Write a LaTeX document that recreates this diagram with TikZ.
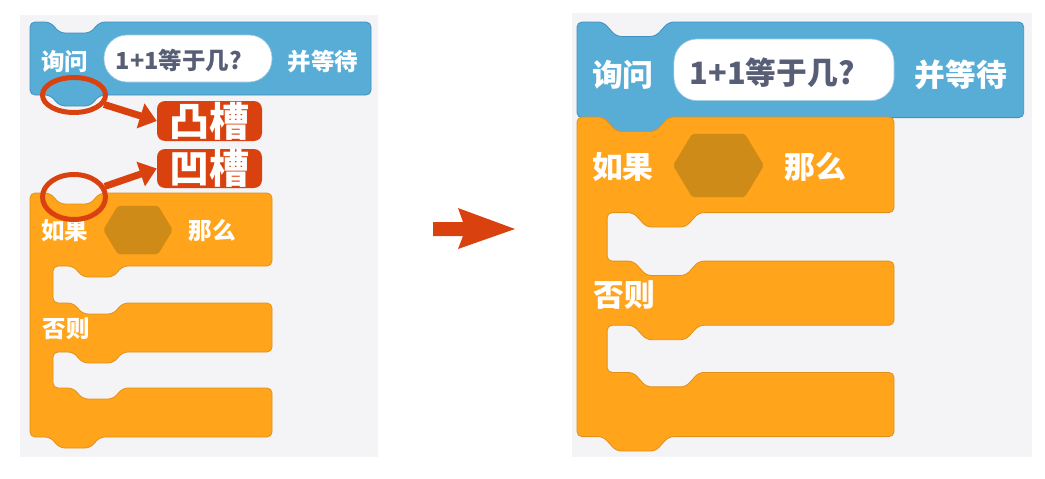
\documentclass[tikz,border=0pt]{standalone}
\usepackage{fontspec}
\newfontfamily\cjk{Noto Sans CJK SC}
\usetikzlibrary{arrows.meta,shapes.geometric}
\definecolor{panelgray}{HTML}{F4F4F6}
\definecolor{sblue}{HTML}{58ADD7}
\definecolor{sblueb}{HTML}{3F8FC0}
\definecolor{sorange}{HTML}{FFA41B}
\definecolor{sorangeb}{HTML}{E0911A}
\definecolor{hexcol}{HTML}{CF8B17}
\definecolor{darktext}{HTML}{575E75}
\definecolor{ared}{HTML}{D9420F}
\tikzset{
  blueblk/.style={fill=sblue, draw=sblueb, line width=0.8pt, rounded corners=5pt},
  orangeblk/.style={fill=sorange, draw=sorangeb, line width=0.8pt, rounded corners=5pt},
  hexfill/.style={fill=hexcol, draw=hexcol, rounded corners=2pt},
  wtxt/.style={text=white, font=\cjk\bfseries\fontsize{23.5}{26}\selectfont, inner sep=0pt},
  pill/.style={fill=white, draw=sblueb!50, line width=0.6pt, rounded corners=23pt,
    minimum width=168pt, minimum height=47pt, inner sep=0pt},
  pilltxt/.style={inner sep=0pt, text=darktext, font=\cjk\bfseries\fontsize{23.5}{26}\selectfont},
  circ/.style={ellipse, draw=ared, line width=5pt, inner sep=0pt},
  lbl/.style={fill=ared, rounded corners=8pt, text=white, inner sep=0pt,
    minimum width=105pt, font=\cjk\bfseries\fontsize{40}{42}\selectfont},
  redarrow/.style={draw=ared, line width=7pt, -{Triangle[length=17pt,width=25pt]}},
  askblock/.pic={
    \draw[blueblk] (0,0) -- (20,0) -- (30,11) -- (60,11) -- (70,0) -- (341,0)
      -- (341,73) -- (70,73) -- (60,84) -- (30,84) -- (20,73) -- (0,73) -- cycle;
    \node[wtxt] (-l) at (35,40) {询问};
    \node[pill] (-in) at (158,36.5) {};
    \node[pilltxt] (-intxt) at (149,39) {1+1等于几?};
    \node[wtxt] (-r) at (293,40) {并等待};
  },
  ifblock/.pic={
    \draw[orangeblk] (0,0) -- (20,0) -- (30,11) -- (60,11) -- (70,0) -- (242,0)
      -- (242,73) -- (93,73) -- (83,84) -- (53,84) -- (43,73) -- (23,73)
      -- (23,110) -- (43,110) -- (53,121) -- (83,121) -- (93,110) -- (242,110)
      -- (242,159) -- (93,159) -- (83,170) -- (53,170) -- (43,159) -- (23,159)
      -- (23,195) -- (43,195) -- (53,206) -- (83,206) -- (93,195) -- (242,195)
      -- (242,244) -- (70,244) -- (60,255) -- (30,255) -- (20,244) -- (0,244) -- cycle;
    \node[wtxt] (-if) at (35,38) {如果};
    \draw[hexfill] (73.5,37) -- (88,13) -- (128,13) -- (142.5,37) -- (128,61) -- (88,61) -- cycle;
    \node[wtxt] (-then) at (182,38) {那么};
    \node[wtxt] (-else) at (36,136) {否则};
  }
}
\begin{document}
\begin{tikzpicture}[x=1pt,y=-1pt]
\useasboundingbox (0,0) rectangle (1045,479);
% panels
\fill[panelgray] (20,15) rectangle (378,457);
\fill[panelgray] (572,13) rectangle (1032,457);
% left panel
\pic (La) at (30,22) {askblock};
\pic (Li) at (30,193) {ifblock};
% right panel
\pic[scale=1.31, transform shape] (Ra) at (577,22) {askblock};
\pic[scale=1.31, transform shape] (Ri) at (577,117) {ifblock};
% annotations
\node[circ, minimum width=63pt, minimum height=35pt] (e1) at (74,95) {};
\node[circ, minimum width=63pt, minimum height=45pt] (e2) at (74,197) {};
\node[lbl, minimum height=40pt] (l1) at (209.5,121) {凸槽};
\node[lbl, minimum height=39pt] (l2) at (209.5,168.5) {凹槽};
\draw[redarrow] (e1) -- (l1.west);
\draw[redarrow] (e2) -- (l2.west);
% middle arrow
\fill[ared] (433,222) -- (463,222) -- (458,208) -- (515,229) -- (458,249) -- (463,236) -- (433,236) -- cycle;
\end{tikzpicture}
\end{document}
